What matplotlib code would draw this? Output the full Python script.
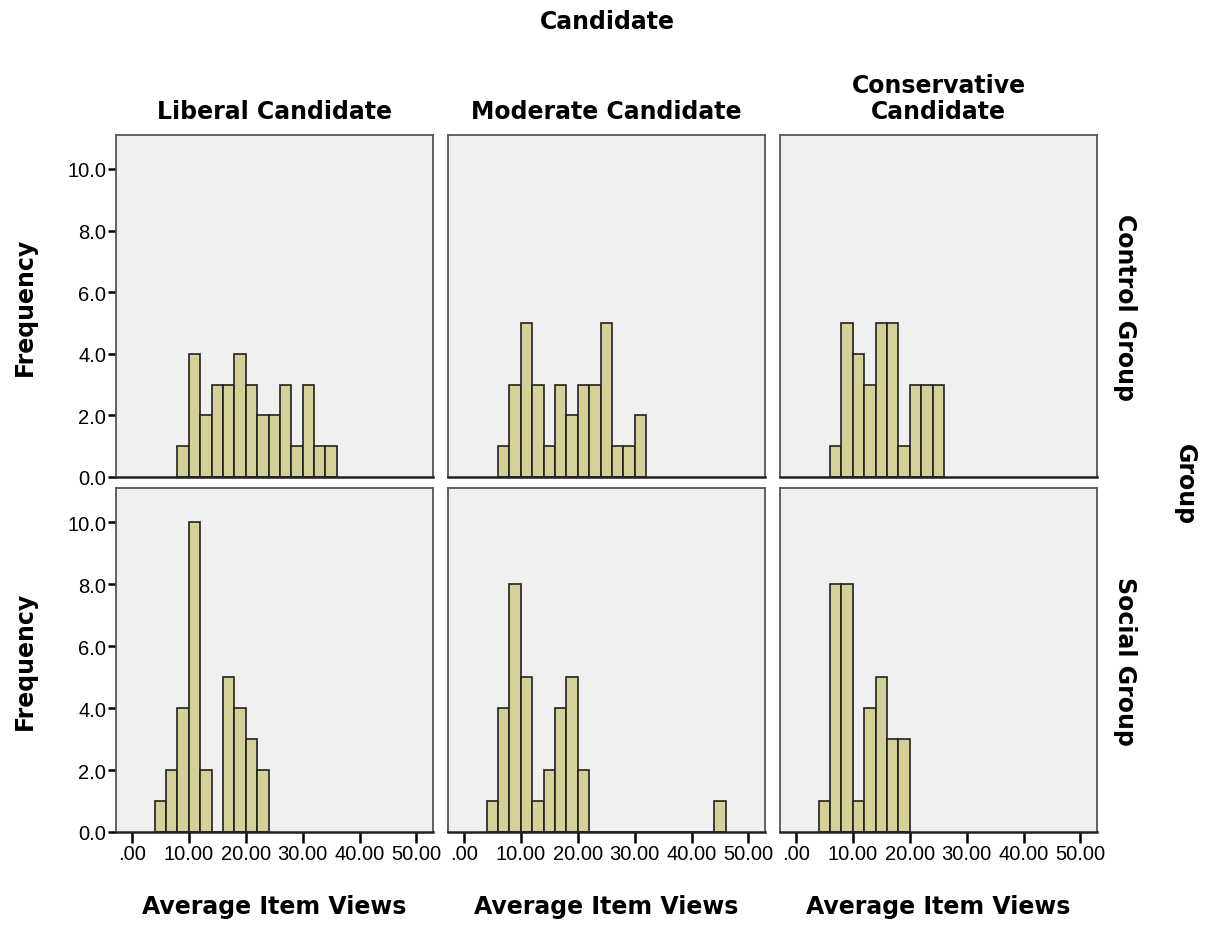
import matplotlib
matplotlib.use('Agg')
import matplotlib.pyplot as plt
import numpy as np

# bin width is 2.0; each series lists counts from its first bin edge
bin_width = 2.0
candidates = ['Liberal Candidate', 'Moderate Candidate', 'Conservative\nCandidate']
groups = ['Control Group', 'Social Group']

control_start = [8, 6, 6]
control_counts = [
    [1, 4, 2, 3, 3, 4, 3, 2, 2, 3, 1, 3, 1, 1],
    [1, 3, 5, 3, 1, 3, 2, 3, 3, 5, 1, 1, 2],
    [1, 5, 4, 3, 5, 5, 1, 3, 3, 3],
]
social_start = [4, 4, 4]
social_counts = [
    [1, 2, 4, 10, 2, 0, 5, 4, 3, 2],
    [1, 4, 8, 5, 1, 2, 4, 5, 2, 0, 0, 0, 0, 0, 0, 0, 0, 0, 0, 0, 1],
    [1, 8, 8, 1, 4, 5, 3, 3],
]

x_ticks = [0, 10, 20, 30, 40, 50]
x_tick_labels = ['.00', '10.00', '20.00', '30.00', '40.00', '50.00']
y_ticks = [0, 2, 4, 6, 8, 10]
y_tick_labels = ['0.0', '2.0', '4.0', '6.0', '8.0', '10.0']

bar_color = '#d5cf98'
panel_bg = '#f0f0f0'
W, H = 1206, 928

fig = plt.figure(figsize=(W / 100, H / 100), dpi=100)
plt.rcParams['font.family'] = ['Liberation Sans', 'DejaVu Sans']

col_left = [116, 448, 780]
panel_w = 317
row_top = [136, 489]
panel_h = [342, 344]

title_font = {'family': 'DejaVu Sans', 'weight': 'bold', 'size': 17}
tick_size = 14.5

for r in range(2):
    starts = control_start if r == 0 else social_start
    counts_all = control_counts if r == 0 else social_counts
    for c in range(3):
        left = col_left[c] / W
        bottom = 1 - (row_top[r] + panel_h[r]) / H
        ax = fig.add_axes([left, bottom, panel_w / W, panel_h[r] / H])
        ax.set_facecolor(panel_bg)
        counts = np.array(counts_all[c])
        edges = starts[c] + bin_width * np.arange(len(counts))
        ax.bar(edges, counts, width=bin_width, align='edge', color=bar_color,
               edgecolor='#222222', linewidth=1.2, zorder=2)
        ax.set_xlim(-2.8, 52.9)
        ax.set_ylim(0, 11.1)
        for s in ['top', 'right', 'left']:
            ax.spines[s].set_color('#555555')
            ax.spines[s].set_linewidth(1.3)
        ax.spines['bottom'].set_color('#222222')
        ax.spines['bottom'].set_linewidth(1.8)

        if c == 0:
            ax.set_yticks(y_ticks)
            ax.set_yticklabels(y_tick_labels, fontsize=tick_size)
            ax.tick_params(axis='y', length=6, width=1.8, pad=1)
            ax.set_ylabel('Frequency', fontdict=title_font, labelpad=22)
        else:
            ax.set_yticks([])
        if r == 1:
            ax.set_xticks(x_ticks)
            ax.set_xticklabels(x_tick_labels, fontsize=tick_size)
            ax.tick_params(axis='x', length=8, width=1.8, pad=1)
            ax.set_xlabel('Average Item Views', fontdict=title_font, labelpad=22)
        else:
            ax.set_xticks([])
        if r == 0:
            ax.set_title(candidates[c], fontdict=title_font, pad=12,
                         linespacing=1.1)
        if c == 2:
            ax.text(1.088, 0.5, groups[r], transform=ax.transAxes,
                    rotation=-90, ha='center', va='center', **title_font)

fig.text(607 / W, 1 - 22 / H, 'Candidate', ha='center', va='center', **title_font)
fig.text(1185 / W, 1 - 485 / H, 'Group', ha='center', va='center',
         rotation=-90, **title_font)

fig.savefig('out.png', dpi=100, facecolor='white')
